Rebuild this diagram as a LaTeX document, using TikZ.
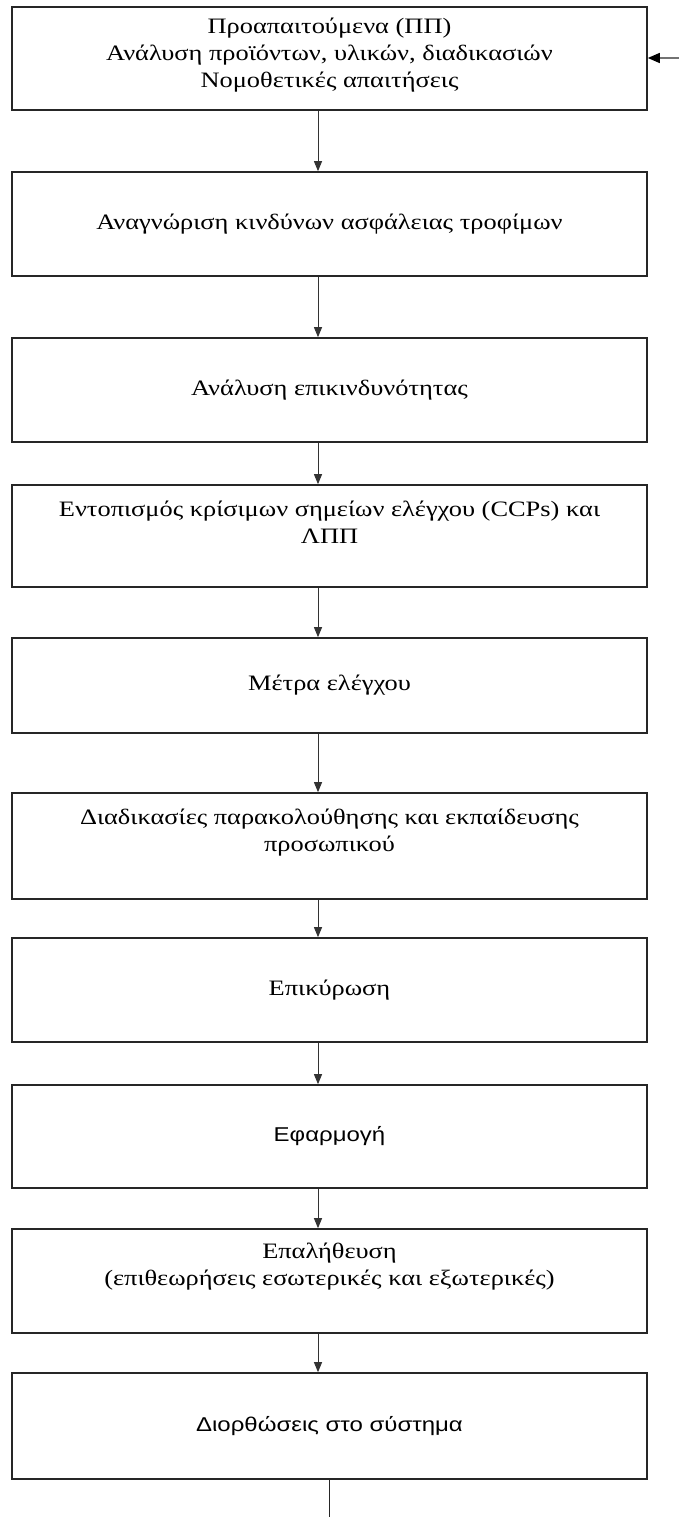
\documentclass[tikz,border=0pt]{standalone}
\usepackage{fontspec}
\setmainfont{Liberation Serif}[FakeStretch=1.2]
\newfontfamily\sansgr{Liberation Sans}[FakeStretch=1.2]
\usetikzlibrary{arrows.meta}
\begin{document}
\begin{tikzpicture}[x=1pt,y=-1pt,
  box/.style={draw=black!85, line width=1.6pt, rectangle, minimum width=635pt,
    inner sep=0pt, align=center, text=black, font=\fontsize{22}{27}\selectfont},
  sbox/.style={box, font=\sansgr\fontsize{20}{24}\selectfont},
  conn/.style={draw=black!80, line width=0.9pt, -{Triangle[length=10pt,width=8pt]}},
  plain/.style={draw=black!85, line width=1.4pt}]
\useasboundingbox (0,0) rectangle (679,1517);
\coordinate (ax) at (318,0);
\node[box, minimum height=103pt] (b1) at (329.5,58.5)
  {Προαπαιτούμενα (ΠΠ)\\Ανάλυση προϊόντων, υλικών, διαδικασιών\\Νομοθετικές απαιτήσεις\\[-16pt]\mbox{}};
\node[box, minimum height=104pt] (b2) at (329.5,224) {Αναγνώριση κινδύνων ασφάλειας τροφίμων};
\node[box, minimum height=104pt] (b3) at (329.5,390) {Ανάλυση επικινδυνότητας};
\node[box, minimum height=102pt] (b4) at (329.5,536)
  {Εντοπισμός κρίσιμων σημείων ελέγχου (CCPs) και\\ΛΠΠ\\\mbox{}};
\node[box, minimum height=95pt] (b5) at (329.5,685.5) {Μέτρα ελέγχου};
\node[box, minimum height=106pt] (b6) at (329.5,846)
  {Διαδικασίες παρακολούθησης και εκπαίδευσης\\προσωπικού\\[4pt]\mbox{}};
\node[box, minimum height=104pt] (b7) at (329.5,990) {Επικύρωση};
\node[sbox, minimum height=103pt] (b8) at (329.5,1136.5) {Εφαρμογή};
\node[box, minimum height=104pt] (b9) at (329.5,1281)
  {Επαλήθευση\\(επιθεωρήσεις εσωτερικές και εξωτερικές)\\[6pt]\mbox{}};
\node[sbox, minimum height=106pt] (b10) at (329.5,1426) {Διορθώσεις στο σύστημα};
\foreach \a/\b in {b1/b2,b2/b3,b3/b4,b4/b5,b5/b6,b6/b7,b7/b8,b8/b9,b9/b10}
  \draw[conn] (\a.south -| ax) -- (\b.north -| ax);
\coordinate (bend) at (329.5,1517);
\draw[plain] (b10.south) -- (bend);
\coordinate (fb) at (679,58);
\draw[draw=black!55, line width=1.4pt, -{Triangle[length=12pt,width=10pt,color=black]}] (fb) -- (b1.east |- fb);
\end{tikzpicture}
\end{document}
